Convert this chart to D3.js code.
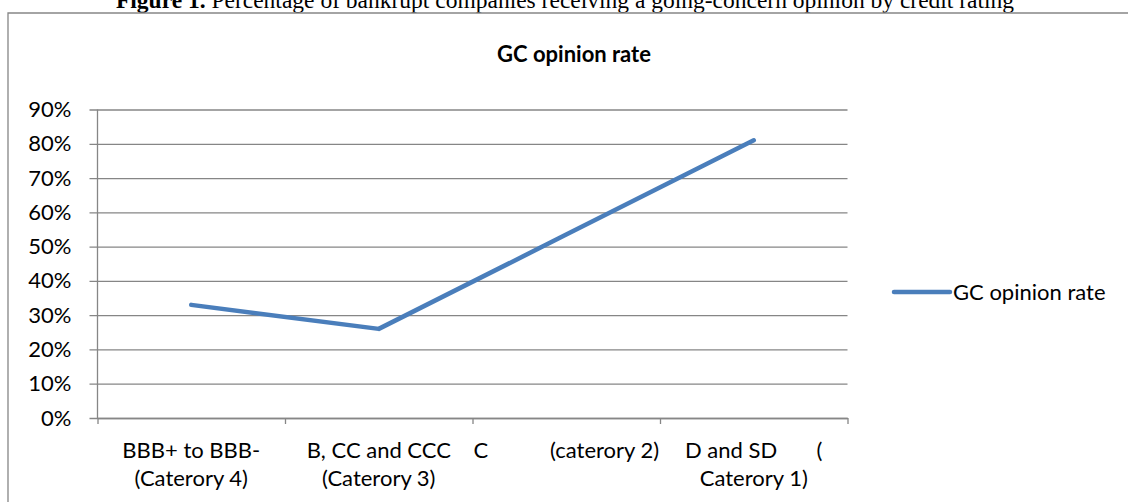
<!DOCTYPE html>
<html>
<head>
<meta charset="utf-8">
<script src="https://cdn.jsdelivr.net/npm/d3@7"></script>
<style>
  body { margin: 0; background: #fff; }
  svg text { font-family: Lato, "Open Sans", sans-serif; }
</style>
</head>
<body>
<div id="chart"></div>
<script>
// data
const categories = ['BBB+ to BBB-', 'B, CC and CCC', 'C', 'D and SD'];
const labelLines = [
    ['BBB+ to BBB-', '(Caterory 4)'],
    ['B, CC and CCC', '(Caterory 3)'],
    ['C           (caterory 2)'],
    ['D and SD       (', 'Caterory 1)']
];
const gcRate = [0.33, 0.26, 0.535, 0.81];
const yTicks = [0, 0.1, 0.2, 0.3, 0.4, 0.5, 0.6, 0.7, 0.8, 0.9];
const seriesName = 'GC opinion rate';
const caption = 'Percentage of bankrupt companies receiving a going-concern opinion by credit rating';

const width = 1128;
const height = 502;
const plot = { left: 97.5, right: 847.5, top: 109.5, bottom: 418 };
const grey = '#868686';
const blue = '#4A7EBB';
const fontSize = 22;

const svg = d3.select('#chart')
    .append('svg')
    .attr('width', width)
    .attr('height', height);

// caption above the frame (cut at the top, as in the source)
const cap = svg.append('text')
    .attr('x', 565)
    .attr('y', 8)
    .attr('text-anchor', 'middle')
    .style('font-family', '"Liberation Serif", "Times New Roman", serif')
    .style('font-size', '23.5px');
cap.append('tspan').style('font-weight', 'bold').text('Figure 1. ');
cap.append('tspan').text(caption);

// chart frame: only top and left edges are inside the picture
svg.append('path')
    .attr('d', `M8,${height + 5}V13H${width + 5}`)
    .attr('fill', 'none')
    .attr('stroke', grey)
    .attr('stroke-width', 1.3);

// title
svg.append('text')
    .attr('x', 574)
    .attr('y', 62)
    .attr('text-anchor', 'middle')
    .style('font-weight', 'bold')
    .style('font-size', fontSize + 'px')
    .text(seriesName);

const x = d3.scaleBand()
    .domain(categories)
    .range([plot.left, plot.right]);

const xEdges = d3.scaleLinear()
    .domain([0, categories.length])
    .range([plot.left, plot.right]);

const y = d3.scaleLinear()
    .domain([0, 0.9])
    .range([plot.bottom, plot.top]);

// gridlines (with short outward tick on the left)
const grid = svg.append('g')
    .attr('transform', `translate(${plot.left - 8},0)`)
    .call(d3.axisLeft(y).tickValues(yTicks).tickSize(-(plot.right - plot.left + 8)).tickFormat(''));
grid.select('.domain').remove();
grid.selectAll('line').attr('stroke', grey).attr('stroke-width', 1.3);

// y labels
const yAxis = svg.append('g')
    .attr('transform', `translate(${plot.left},0)`)
    .call(d3.axisLeft(y).tickValues(yTicks).tickSize(0).tickPadding(26).tickFormat(d3.format('.0%')));
yAxis.select('.domain').remove();
yAxis.selectAll('text')
    .style('font-size', fontSize + 'px')
    .attr('fill', '#000');

// y axis line
svg.append('line')
    .attr('x1', plot.left).attr('x2', plot.left)
    .attr('y1', y(0.9)).attr('y2', y(0))
    .attr('stroke', grey)
    .attr('stroke-width', 1.3);

// x axis ticks at category boundaries
const xAxis = svg.append('g')
    .attr('transform', `translate(0,${plot.bottom})`)
    .call(d3.axisBottom(xEdges).tickValues(d3.range(categories.length + 1)).tickSize(6).tickSizeOuter(0).tickFormat(''));
xAxis.selectAll('line, path').attr('stroke', grey).attr('stroke-width', 1.3);

// category labels
const lab = svg.append('g')
    .selectAll('text')
    .data(categories)
    .join('text')
    .attr('x', d => x(d) + x.bandwidth() / 2)
    .attr('y', 458)
    .attr('text-anchor', 'middle')
    .attr('xml:space', 'preserve')
    .style('white-space', 'pre')
    .style('font-size', fontSize + 'px');
lab.selectAll('tspan')
    .data((d, i) => labelLines[i])
    .join('tspan')
    .attr('x', function () { return d3.select(this.parentNode).attr('x'); })
    .attr('dy', (d, i) => i === 0 ? 0 : 28)
    .text(d => d);

// series line
const line = d3.line()
    .x((d, i) => x(categories[i]) + x.bandwidth() / 2)
    .y(d => y(d));

svg.append('path')
    .datum(gcRate)
    .attr('d', line)
    .attr('fill', 'none')
    .attr('stroke', blue)
    .attr('stroke-width', 4.5)
    .attr('stroke-linecap', 'round')
    .attr('stroke-linejoin', 'round');

// legend
const legend = svg.append('g').attr('transform', 'translate(894,292)');
legend.append('line')
    .attr('x1', 0).attr('x2', 56)
    .attr('stroke', blue)
    .attr('stroke-width', 4.5)
    .attr('stroke-linecap', 'round');
legend.append('text')
    .attr('x', 59)
    .attr('y', 8)
    .style('font-size', fontSize + 'px')
    .text(seriesName);
</script>
</body>
</html>
